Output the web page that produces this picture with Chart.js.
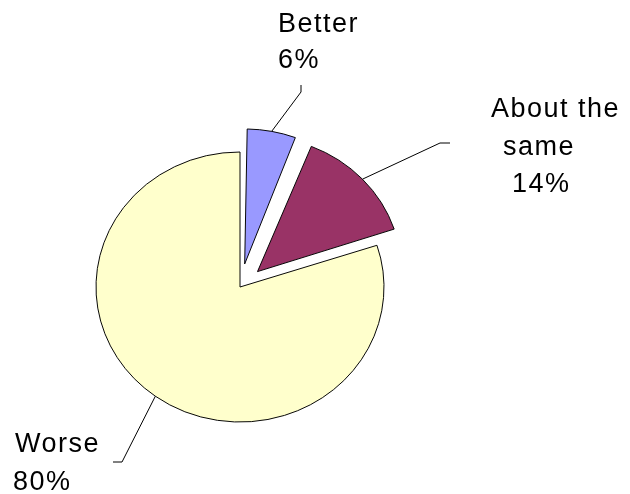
<!DOCTYPE html>
<html>
<head>
<meta charset="utf-8">
<script src="https://cdn.jsdelivr.net/npm/chart.js@4.4.0/dist/chart.umd.min.js"></script>
<style>
  html, body { margin: 0; padding: 0; background: #fff; }
  #wrap { width: 630px; height: 494px; position: relative; }
</style>
</head>
<body>
<div id="wrap"><canvas id="pie"></canvas></div>
<script>
// Chart data
const categories = ['Better', 'About the same', 'Worse'];
const percentValues = [6, 14, 80];
const sliceColors = ['#9999FF', '#993366', '#FFFFCC'];
const sliceOffsets = [100, 96, 0];

// Label text lines and their anchor spots (left x, baseline y) plus leader elbows
const labelLines = [
    [['Better', 278, 32], ['6%', 278, 68]],
    [['About the', 491, 117], ['same', 503, 155], ['14%', 512, 192]],
    [['Worse', 15, 452], ['80%', 13, 490]]
];
const leaderElbows = [
    [[301, 92], [301, 85]],
    [[440, 143], [450, 143]],
    [[122, 462], [113, 462]]
];

const pieRadius = 144;
const squash = 135 / 144;

// how much chart.js grows an offset slice's radius when drawing it
function radiusGrowth(arc) {
    const off = (arc.options.offset || 0) / 4;
    const fix = 1 - Math.sin(Math.min(Math.PI, arc.circumference || (arc.endAngle - arc.startAngle)));
    return off * fix;
}

// keep exploded slices at the same radius as the rest
const radiusPlugin = {
    id: 'sameRadius',
    afterDatasetsUpdate(chart) {
        chart.getDatasetMeta(0).data.forEach(arc => {
            arc.outerRadius = pieRadius - radiusGrowth(arc);
        });
    }
};

// Flatten the pie vertically like the original
const squashPlugin = {
    id: 'squash',
    beforeDatasetsDraw(chart) {
        const arc = chart.getDatasetMeta(0).data[0];
        const ctx = chart.ctx;
        ctx.save();
        ctx.translate(0, arc.y);
        ctx.scale(1, squash);
        ctx.translate(0, -arc.y);
    },
    afterDatasetsDraw(chart) {
        chart.ctx.restore();
    }
};

// Labels with leader lines
const labelPlugin = {
    id: 'pieLabels',
    afterDraw(chart) {
        const ctx = chart.ctx;
        const meta = chart.getDatasetMeta(0);
        ctx.save();
        meta.data.forEach((arc, i) => {
            const mid = (arc.startAngle + arc.endAngle) / 2;
            const off = (arc.options.offset || 0) / 4;
            const r = arc.outerRadius + radiusGrowth(arc);
            const px = arc.x + Math.cos(mid) * (off + r);
            const py = arc.y + Math.sin(mid) * (off + r) * squash;
            ctx.strokeStyle = '#000';
            ctx.lineWidth = 1;
            ctx.beginPath();
            ctx.moveTo(px, py);
            leaderElbows[i].forEach(p => ctx.lineTo(p[0], p[1]));
            ctx.stroke();

            ctx.fillStyle = '#000';
            ctx.font = '27px "Liberation Sans", Arial, sans-serif';
            ctx.letterSpacing = '1.5px';
            ctx.textAlign = 'left';
            ctx.textBaseline = 'alphabetic';
            labelLines[i].forEach(l => ctx.fillText(l[0], l[1], l[2]));
        });
        ctx.restore();
    }
};

new Chart(document.getElementById('pie'), {
    type: 'pie',
    data: {
        labels: categories,
        datasets: [{
            data: percentValues,
            backgroundColor: sliceColors,
            borderColor: '#000',
            borderWidth: 1,
            offset: sliceOffsets
        }]
    },
    options: {
        responsive: true,
        maintainAspectRatio: false,
        animation: false,
        radius: pieRadius,
        layout: { padding: { left: 0, right: 150, top: 80, bottom: 0 } },
        plugins: {
            legend: { display: false },
            tooltip: { enabled: false }
        },
        events: []
    },
    plugins: [radiusPlugin, squashPlugin, labelPlugin]
});
</script>
</body>
</html>
